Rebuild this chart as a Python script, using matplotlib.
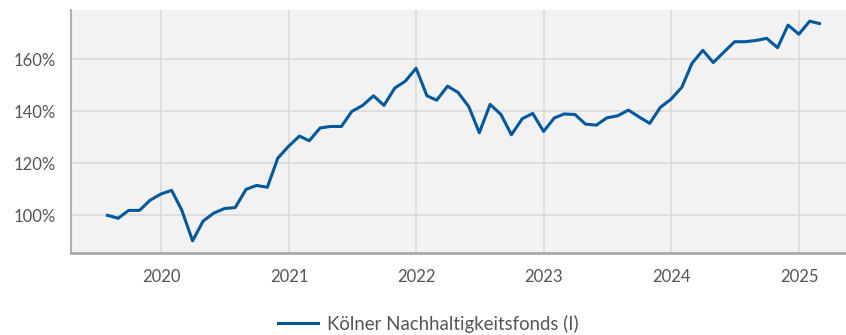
import pandas as pd
import matplotlib
matplotlib.use("Agg")
import matplotlib.pyplot as plt
import matplotlib.dates as mdates
from matplotlib.ticker import FixedLocator, FuncFormatter

# monthly index values (start = 100%)
dates = pd.date_range("2019-07-31", periods=68, freq="ME")
fund = [
    100.0, 98.9, 101.9, 101.9, 105.8, 108.2, 109.6, 102.0, 90.2, 97.8,
    100.9, 102.6, 103.0, 110.0, 111.5, 110.8, 122.0, 126.6, 130.5, 128.7,
    133.6, 134.2, 134.2, 140.0, 142.3, 146.0, 142.3, 149.0, 151.6, 156.6,
    146.0, 144.3, 149.7, 147.3, 141.8, 131.8, 142.7, 138.8, 131.0, 137.2,
    139.2, 132.3, 137.5, 139.0, 138.8, 135.1, 134.7, 137.5, 138.3, 140.5,
    137.9, 135.4, 141.5, 144.7, 149.3, 158.5, 163.5, 158.8, 162.9, 166.8,
    166.8, 167.3, 168.1, 164.5, 173.2, 169.7, 174.7, 173.8,
]
series_name = "Kölner Nachhaltigkeitsfonds (I)"
years = [2020, 2021, 2022, 2023, 2024, 2025]
y_ticks = [100, 120, 140, 160]

plt.rcParams["font.family"] = ["Lato", "DejaVu Sans"]

fig = plt.figure(figsize=(8.46, 3.35), dpi=100)
ax = fig.add_axes([0.0836, 0.2439, 0.9164, 0.7262])
ax.set_facecolor("#f2f2f2")

ax.plot(dates, fund, color="#00599c", lw=2.2, label=series_name, zorder=3)

ax.set_xlim(pd.Timestamp("2019-04-17"), pd.Timestamp("2025-05-15"))
ax.set_ylim(85.4, 179)

ax.xaxis.set_major_locator(FixedLocator([mdates.date2num(pd.Timestamp(f"{y}-01-01")) for y in years]))
ax.xaxis.set_major_formatter(FuncFormatter(lambda v, p: mdates.num2date(v).strftime("%Y")))
ax.yaxis.set_major_locator(FixedLocator(y_ticks))
ax.yaxis.set_major_formatter(FuncFormatter(lambda v, p: f"{v:.0f}%"))

ax.grid(True, color="#dadada", lw=1.2)
ax.set_axisbelow(True)
ax.tick_params(length=0, labelsize=12, colors="#555555")
ax.tick_params(axis="y", pad=11)
ax.tick_params(axis="x", pad=11)

for side in ["top", "right"]:
    ax.spines[side].set_visible(False)
ax.spines["left"].set_color("#b0b0b0")
ax.spines["left"].set_linewidth(1.5)
ax.spines["bottom"].set_color("#a8a8a8")
ax.spines["bottom"].set_linewidth(2)

fig.legend(loc="center", bbox_to_anchor=(0.506, 0.033), frameon=False,
           fontsize=13.4, labelcolor="#555555", handlelength=2.15, handletextpad=0.5)

fig.savefig("out.png", dpi=100)
